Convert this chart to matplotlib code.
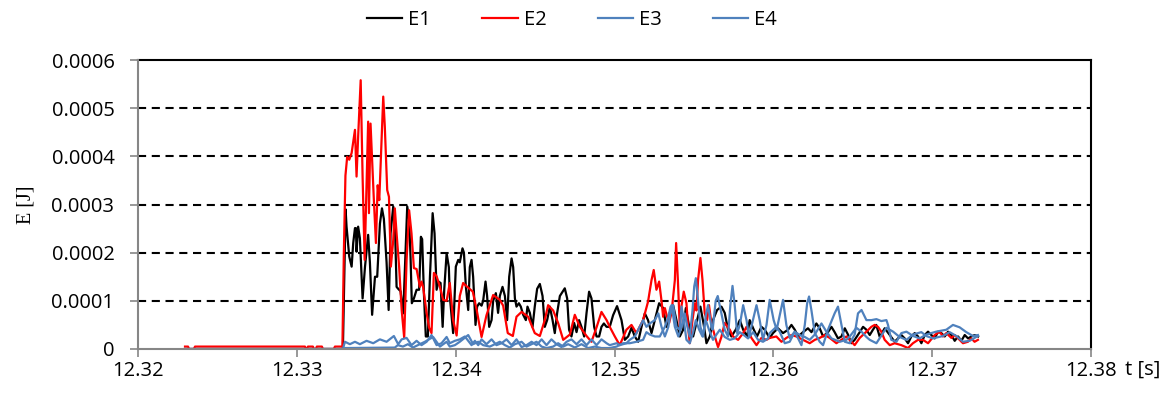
import matplotlib
matplotlib.use("Agg")
import matplotlib.pyplot as plt
import numpy as np

# ---- data: time in ms after 12.32 s, energy in microjoule ----
e1_t = [2.96, 12.90, 12.96, 13.07, 13.13, 13.30, 13.45, 13.55, 13.66, 13.72, 13.76, 13.86, 13.97, 14.14, 14.29, 14.49, 14.60, 14.74, 14.92, 15.06,
        15.23, 15.36, 15.48, 15.65, 15.78, 15.90, 16.07, 16.19, 16.28, 16.38, 16.53, 16.70, 16.82, 16.95, 17.07, 17.16, 17.24, 17.37, 17.54, 17.70,
        17.81, 17.89, 18.00, 18.12, 18.25, 18.38, 18.55, 18.67, 18.80, 18.92, 19.05, 19.18, 19.28, 19.43, 19.57,
        19.63, 19.84, 20.01, 20.16, 20.26, 20.43, 20.52, 20.64, 20.79, 20.89, 21.00, 21.10, 21.25, 21.35, 21.48, 21.63, 21.73, 21.88, 21.98, 22.11,
        22.26, 22.36, 22.53, 22.67, 22.78, 22.95, 23.10, 23.24, 23.37, 23.52, 23.62, 23.73, 23.83, 23.98, 24.10, 24.25, 24.42, 24.52, 24.67, 24.84,
        24.98, 25.13, 25.30, 25.47, 25.61, 25.76, 25.93, 26.10, 26.24, 26.39, 26.56, 26.87, 27.02, 27.14, 27.29, 27.46, 27.61, 27.77, 27.92, 28.09,
        28.24, 28.40, 28.55, 28.72, 28.87, 29.03, 29.18, 29.33, 29.50, 29.70,
        29.91, 30.16, 30.44, 30.65, 30.86, 31.07, 31.28, 31.49, 31.70, 31.91, 32.11, 32.33, 32.54, 32.81, 33.06, 33.27, 33.48, 33.69, 33.90, 34.11,
        34.32, 34.49, 34.74, 34.95, 35.20, 35.41, 35.62, 35.79, 36.00, 36.20, 36.46, 36.73, 36.94, 37.15, 37.36, 37.63, 37.89, 38.10, 38.35, 38.51,
        38.77, 38.97, 39.25, 39.46, 39.77,
        39.98, 40.29, 40.61, 40.93, 41.14, 41.35, 41.56, 41.87, 42.18, 42.40, 42.71, 42.92, 43.13, 43.44, 43.66, 43.86, 44.07, 44.29, 44.50, 44.70,
        44.91, 45.12, 45.44, 45.65, 45.86, 46.07, 46.27, 46.48, 46.70, 47.01, 47.33, 47.64, 47.85, 48.06, 48.27, 48.48, 48.69, 48.90, 49.11, 49.32,
        49.53, 49.74, 49.95, 50.16, 50.37, 50.58, 50.79, 51.00, 51.21, 51.42, 51.63, 51.84, 52.05, 52.26, 52.47, 52.68, 52.89]
e1_v = [0, 0, 100, 290, 254, 192, 171, 220, 251, 251, 202, 254, 230, 105, 170, 237, 180, 71, 150, 150,
        260, 292, 270, 180, 81, 240, 296, 240, 129, 125, 120, 74, 180, 296, 270, 190, 95, 105, 123, 123,
        233, 228, 116, 26, 26, 150, 282, 240, 123, 140, 137, 46, 123, 199, 170,
        110, 33, 171, 185, 180, 209, 200, 130, 81, 170, 185, 150, 50, 88, 95, 90, 100, 140, 110, 46,
        60, 100, 116, 75, 110, 129, 110, 60, 150, 188, 170, 105, 88, 95, 88, 71, 60, 88, 75, 46,
        88, 125, 135, 110, 46, 60, 88, 60, 33, 75, 110, 126, 105, 40, 26, 54, 35, 60, 46, 26,
        75, 119, 105, 46, 26, 26, 46, 53, 46, 46,
        70, 89, 60, 19, 26, 44, 26, 15, 46, 74, 60, 33, 60, 95, 85, 46, 75, 91, 60, 26,
        40, 85, 40, 26, 60, 88, 50, 12, 26, 60, 81, 88, 75, 40, 26, 40, 60, 40, 26, 60,
        40, 26, 46, 40, 23,
        33, 43, 33, 40, 50, 40, 26, 35, 43, 35, 53, 43, 26, 35, 46, 35, 22, 26, 43, 30,
        12, 19, 35, 46, 40, 29, 40, 50, 25, 43, 29, 15, 22, 29, 22, 12, 26, 33, 26, 12,
        29, 36, 29, 22, 36, 33, 26, 36, 29, 17, 26, 17, 29, 22, 26, 29, 26]

e2_t = [2.96, 3.15, 3.21, 3.52, 3.59, 10.51, 10.57, 10.64, 10.70, 11.01, 11.08, 11.20, 11.26, 11.58, 11.64, 12.33, 12.40, 12.78, 12.87, 12.96,
        13.06, 13.17, 13.30, 13.45, 13.66, 13.76, 13.86, 14.02, 14.14, 14.27, 14.49, 14.54, 14.64, 14.85, 14.98, 15.09, 15.19, 15.44, 15.54, 15.69,
        15.80, 15.92, 16.07, 16.17, 16.28, 16.44, 16.60, 16.76, 16.91, 17.07, 17.22, 17.37, 17.54, 17.75, 17.85, 17.95, 18.17, 18.33, 18.48, 18.63,
        18.80, 19.01, 19.21, 19.43, 19.63,
        19.84, 20.06, 20.26, 20.47, 20.70, 21.08, 21.33, 21.63, 21.94, 22.36, 22.78, 22.99, 23.28, 23.60, 23.83, 24.15, 24.56, 24.98, 25.30, 25.61,
        25.82, 26.14, 26.45, 26.77, 27.19, 27.50, 27.82, 28.24, 28.55, 28.87, 29.18, 29.50,
        29.70, 30.02, 30.33, 30.75, 31.07, 31.38, 31.80, 32.11, 32.33, 32.47, 32.64, 32.81, 32.96, 33.06, 33.17, 33.31, 33.44, 33.59, 33.80, 33.88,
        33.99, 34.11, 34.22, 34.36, 34.53, 34.63, 34.74, 34.91, 35.06, 35.16, 35.26, 35.41, 35.54, 35.68, 35.83, 35.95, 36.10, 36.38, 36.52, 36.73,
        36.94, 37.26, 37.46, 37.78, 38.10, 38.31, 38.62, 38.94, 39.25, 39.57,
        39.77, 40.19, 40.51, 40.82, 41.14, 41.45, 41.87, 42.29, 42.61, 42.92, 43.24, 43.55, 43.97, 44.29, 44.60, 44.92, 45.12, 45.44, 45.86, 46.17,
        46.38, 46.59, 46.80, 47.01, 47.33, 47.64, 48.06, 48.48, 48.79, 49.11, 49.42, 49.74, 50.16, 50.47, 50.68, 50.89, 51.21, 51.42, 51.73, 51.94,
        52.25, 52.47, 52.67, 52.88]
e2_v = [5, 5, 0, 0, 5, 5, 0, 0, 5, 5, 0, 0, 5, 5, 0, 0, 5, 5, 5, 200,
        360, 399, 393, 407, 455, 358, 441, 558, 358, 185, 472, 282, 468, 309, 220, 340, 309, 524, 461, 330,
        316, 171, 226, 292, 240, 171, 81, 23, 185, 288, 240, 168, 166, 129, 140, 129, 75, 44, 33, 158,
        151, 129, 102, 100, 137,
        60, 28, 110, 137, 130, 119, 80, 25, 70, 112, 102, 90, 33, 27, 67, 77, 67, 33, 27, 60,
        91, 80, 54, 19, 30, 71, 46, 27, 15, 45, 77, 60,
        46, 26, 8, 40, 50, 33, 60, 98, 143, 164, 123, 140, 100, 67, 85, 67, 54, 75, 143, 220,
        143, 46, 90, 119, 95, 46, 12, 60, 95, 80, 143, 189, 143, 74, 60, 91, 54, 19, 4, 25,
        54, 40, 26, 19, 33, 46, 23, 8, 23, 19,
        23, 26, 15, 23, 29, 26, 19, 12, 19, 23, 29, 23, 12, 19, 26, 15, 8, 23, 36, 46,
        50, 46, 36, 19, 8, 12, 8, 2, 12, 19, 19, 12, 29, 36, 26, 33, 23, 29, 19, 12,
        15, 22, 15, 19]

e3_t = [2.96, 12.90, 13.03, 13.34, 13.66, 13.97, 14.39, 14.81, 15.23, 15.65, 16.11, 16.38, 16.60, 16.91, 17.22, 17.54, 17.85, 18.17, 18.48, 18.80,
        19.11, 19.43, 19.63, 19.95, 20.26, 20.58, 21.00, 21.21, 21.42, 21.63, 21.94, 22.26, 22.57, 22.89, 23.20, 23.52, 23.83, 24.15, 24.46, 24.78,
        25.09, 25.41, 25.72, 26.03, 26.35, 26.66, 26.98, 27.29, 27.61, 27.92, 28.24, 28.55, 28.87, 29.18, 29.50, 29.70, 30.13, 30.33, 30.75, 30.96,
        31.28, 31.59, 31.80, 32.01, 32.22, 32.54, 32.76, 32.96, 33.17, 33.39, 33.59, 33.80, 34.02, 34.22, 34.42, 34.59, 34.74, 34.91, 35.02, 35.12,
        35.26, 35.41, 35.58, 35.75, 35.89, 36.10, 36.18, 36.37, 36.50, 36.73, 36.94, 37.15, 37.29, 37.43, 37.57, 37.72, 37.89, 38.10, 38.31, 38.47,
        38.68, 38.94, 39.14, 39.35, 39.57, 39.77, 40.02, 40.21, 40.47, 40.61, 40.82, 41.03, 41.35, 41.77, 41.98, 42.13, 42.25, 42.40, 42.61, 42.92,
        43.13, 43.44, 43.86, 44.07, 44.29, 44.50, 44.81, 45.12, 45.33, 45.55, 45.86, 46.18, 46.49, 46.80, 47.12, 47.22, 47.43, 47.75, 48.06, 48.38,
        48.80, 49.21, 49.63, 50.25, 50.89, 51.31, 51.73, 52.15, 52.57, 52.88]
e3_v = [0, 0, 15, 10, 15, 10, 17, 12, 20, 15, 27, 10, 20, 23, 8, 17, 8, 15, 29, 8,
        12, 25, 12, 17, 20, 26, 8, 17, 8, 20, 10, 20, 8, 12, 20, 8, 20, 4, 8, 15,
        8, 20, 8, 20, 10, 4, 15, 20, 10, 20, 8, 20, 8, 20, 12, 8, 12, 8, 12, 19,
        26, 46, 60, 46, 53, 60, 74, 46, 26, 46, 91, 46, 26, 46, 74, 46, 26, 80, 130, 147,
        100, 46, 26, 70, 91, 46, 40, 100, 110, 74, 40, 26, 90, 131, 90, 33, 50, 91, 60, 26,
        55, 91, 60, 19, 50, 102, 60, 40, 80, 102, 50, 23, 36, 8, 50, 95, 109, 80, 33, 15,
        8, 40, 74, 88, 50, 15, 12, 30, 74, 81, 60, 60, 62, 58, 60, 50, 19, 15, 33, 36,
        27, 22, 30, 36, 40, 50, 45, 35, 27, 29]

e4_t = [2.96, 12.90, 13.03, 16.17, 16.36, 16.68, 16.99, 17.31, 17.62, 18.06, 18.58, 19.01, 19.43, 19.63, 19.95, 20.26, 20.79, 21.10, 21.42, 21.73,
        22.15, 22.47, 22.78, 23.10, 23.41, 23.73, 24.15, 24.46, 24.78, 25.09, 25.41, 25.72, 26.14, 26.45, 26.77, 27.08, 27.50, 27.92, 28.34, 28.76,
        29.18, 29.70, 30.13, 30.54, 30.96, 31.38, 31.80, 32.01, 32.22, 32.54, 32.85, 33.17, 33.39, 33.53, 33.69, 33.90, 34.11, 34.22, 34.36, 34.53,
        34.74, 34.95, 35.12, 35.33, 35.54, 35.75, 35.95, 36.20, 36.42, 36.63, 36.94, 37.26, 37.57, 37.89, 38.10, 38.41, 38.73, 39.04, 39.35, 39.67,
        39.77, 40.19, 40.40, 40.72, 41.03, 41.35, 41.66, 41.98, 42.29, 42.61, 43.03, 43.34, 43.66, 44.18, 44.60, 44.81, 45.23, 45.55, 45.86, 46.07,
        46.49, 47.12, 47.54, 47.95, 48.38, 48.79, 49.32, 49.63, 50.05, 50.68, 51.10, 51.52, 51.94, 52.36, 52.88]
e4_v = [0, 0, 2, 3, 8, 5, 10, 3, 8, 15, 25, 5, 15, 5, 8, 15, 29, 10, 15, 8,
        5, 10, 15, 8, 3, 10, 15, 5, 10, 15, 5, 2, 5, 12, 5, 10, 3, 10, 2, 5,
        2, 2, 5, 12, 12, 15, 19, 35, 30, 26, 26, 46, 67, 88, 91, 46, 40, 88, 60, 19,
        12, 35, 60, 40, 26, 60, 40, 19, 30, 40, 25, 19, 22, 35, 30, 22, 35, 19, 15, 22,
        33, 46, 36, 12, 15, 36, 29, 25, 19, 30, 53, 36, 22, 15, 19, 26, 44, 36, 25, 19,
        12, 44, 36, 25, 19, 30, 35, 27, 22, 27, 35, 27, 15, 17, 27]

series_names = ["E1", "E2", "E3", "E4"]
series_colors = ["#000000", "#FF0000", "#4F81BD", "#4F81BD"]
x_ticks = [12.32, 12.33, 12.34, 12.35, 12.36, 12.37, 12.38]
x_tick_labels = ["12.32", "12.33", "12.34", "12.35", "12.36", "12.37", "12.38"]
y_ticks = [0, 0.0001, 0.0002, 0.0003, 0.0004, 0.0005, 0.0006]
y_tick_labels = ["0", "0.0001", "0.0002", "0.0003", "0.0004", "0.0005", "0.0006"]

T0 = 12.32
FONT = "Open Sans"
FS = 14.5

fig = plt.figure(figsize=(11.73, 3.98), dpi=100)
ax = fig.add_axes([138/1173, 1-349/398, (1091-138)/1173, (349-60)/398])

data = [(e1_t, e1_v), (e2_t, e2_v), (e3_t, e3_v), (e4_t, e4_v)]
handles = []
for (tt, vv), name, col in zip(data, series_names, series_colors):
    t = T0 + np.array(tt) / 1000.0
    v = np.array(vv) * 1e-6
    h, = ax.plot(t, v, color=col, lw=1.6, label=name, zorder=3)
    handles.append(h)

ax.set_xlim(12.32, 12.38)
ax.set_ylim(0, 0.0006)
ax.set_xticks(x_ticks)
ax.set_xticklabels(x_tick_labels)
ax.set_yticks(y_ticks)
ax.set_yticklabels(y_tick_labels)

for lab in ax.get_xticklabels() + ax.get_yticklabels():
    lab.set_fontfamily(FONT)
    lab.set_fontsize(FS)
ax.tick_params(axis="both", direction="out", length=6, width=1.2, color="#868686")
ax.tick_params(axis="x", pad=3)
ax.tick_params(axis="y", pad=11)

for yv in y_ticks[1:-1]:
    ax.axhline(yv, color="black", lw=1.5, ls=(0, (3.9, 2.7)), zorder=1)
ax.spines["top"].set_color("black")
ax.spines["right"].set_color("black")
ax.spines["left"].set_color("#868686")
ax.spines["bottom"].set_color("#868686")
for s in ax.spines.values():
    s.set_linewidth(1.5)
ax.spines["left"].set_zorder(4)
ax.spines["bottom"].set_zorder(4)

ax.set_ylabel("E [J]", family="Liberation Serif", fontsize=14.5)
ax.yaxis.set_label_coords((35-138)/953, 0.498)

ax.text((1125-138)/953, -0.073, "t [s]", transform=ax.transAxes, family=FONT, fontsize=FS,
        ha="left", va="center")

fig.legend(handles=handles, labels=series_names, loc="center", bbox_to_anchor=(572/1173, 1-20/398),
           ncol=4, frameon=False, prop={"family": FONT, "size": FS}, handlelength=1.75,
           handletextpad=0.3, columnspacing=2.55, borderpad=0.2)

fig.savefig("out.png", dpi=100)
